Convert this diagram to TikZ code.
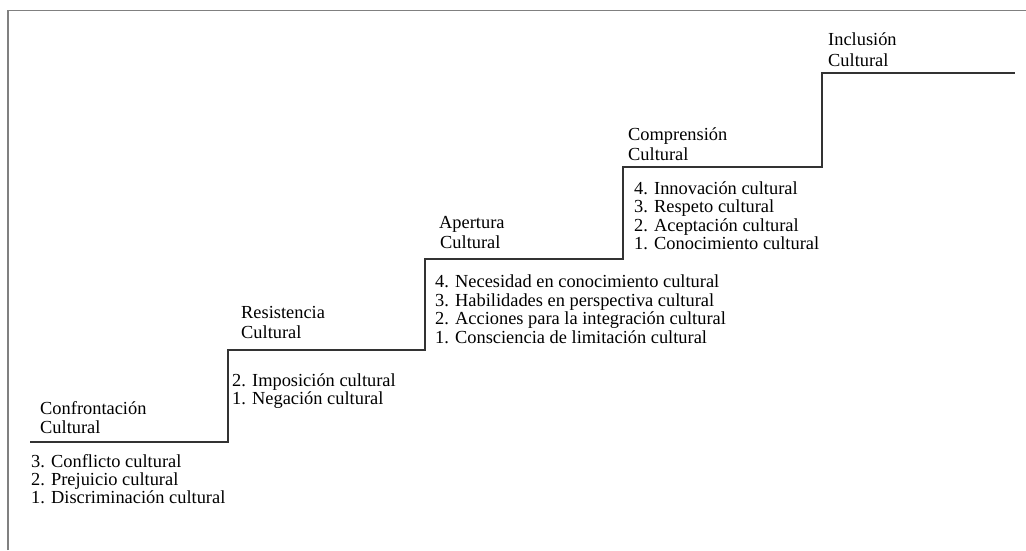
\documentclass[tikz,border=0pt]{standalone}
\usepackage{fontspec}
\setmainfont{Liberation Serif}
\usepackage{tikz}
\tikzstyle{stair}=[draw=black!80, line width=1.3pt]
\tikzstyle{frame}=[draw=black!50, line width=1.2pt]
\tikzstyle{txt}=[inner sep=0pt, anchor=base west, font=\fontsize{18.4}{18.5}\selectfont]

\begin{document}
\begin{tikzpicture}[x=1pt, y=-1pt]
        \useasboundingbox (0, 0) rectangle (1026, 550);
        % frame
        \coordinate (F0) at (8, 550);
        \coordinate (F1) at (8, 10.5);
        \coordinate (F2) at (1026, 10.5);
        \draw[frame] (F0) -- (F1) -- (F2);
        % stairs
        \coordinate (S0) at (30, 442);
        \coordinate (S1) at (228, 442);
        \coordinate (S2) at (228, 350);
        \coordinate (S3) at (425, 350);
        \coordinate (S4) at (425, 259);
        \coordinate (S5) at (623, 259);
        \coordinate (S6) at (623, 167);
        \coordinate (S7) at (822, 167);
        \coordinate (S8) at (822, 73);
        \coordinate (S9) at (1015, 73);
        \draw[stair] (S0) -- (S1) -- (S2) -- (S3) -- (S4) -- (S5) -- (S6) -- (S7) -- (S8) -- (S9);
        % step names
        \node[txt] (conf1) at (40, 414) {Confrontación};
        \node[txt] (conf2) at (40, 433.5) {Cultural};
        \node[txt] (res1) at (241, 318.5) {Resistencia};
        \node[txt] (res2) at (241, 338.5) {Cultural};
        \node[txt] (ape1) at (439, 228.5) {Apertura};
        \node[txt] (ape2) at (440, 248.5) {Cultural};
        \node[txt] (comp1) at (628, 140.5) {Comprensión};
        \node[txt] (comp2) at (628, 160.5) {Cultural};
        \node[txt] (inc1) at (828, 45.5) {Inclusión};
        \node[txt] (inc2) at (828, 66) {Cultural};
        % levels under each step
        \foreach \t [count=\i] in {3. Conflicto cultural, 2. Prejuicio cultural, 1. Discriminación cultural}
            \node[txt] (conf-\i) at ({31}, {467.5+18*(\i-1)}) {\t};
        \foreach \t [count=\i] in {2. Imposición cultural, 1. Negación cultural}
            \node[txt] (res-\i) at ({232}, {386.5+18*(\i-1)}) {\t};
        \foreach \t [count=\i] in {4. Necesidad en conocimiento cultural, 3. Habilidades en perspectiva cultural, 2. Acciones para la integración cultural, 1. Consciencia de limitación cultural}
            \node[txt] (ape-\i) at ({435}, {287.5+18.5*(\i-1)}) {\t};
        \foreach \t [count=\i] in {4. Innovación cultural, 3. Respeto cultural, 2. Aceptación cultural, 1. Conocimiento cultural}
            \node[txt] (comp-\i) at ({634}, {194.5+18.3*(\i-1)}) {\t};
    \end{tikzpicture}
\end{document}
